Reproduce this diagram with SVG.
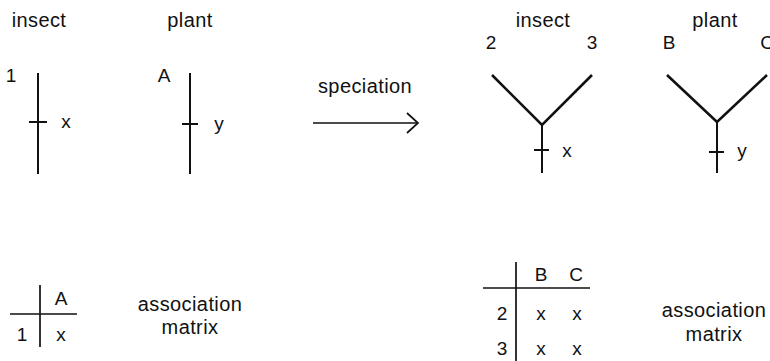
<svg xmlns="http://www.w3.org/2000/svg" width="770" height="361" viewBox="0 0 770 361">
<style>
text{font-family:"Liberation Sans",Arial,sans-serif;fill:#111;}
.t{font-size:20px;text-anchor:middle;letter-spacing:0.4px;}
.l{font-size:19px;text-anchor:middle;}
.ln{stroke:#111;stroke-width:2;fill:none;stroke-linecap:butt;}
.br{stroke:#111;stroke-width:2.6;fill:none;stroke-linejoin:miter;}
.mx{stroke:#111;stroke-width:1.7;fill:none;}
</style>
<rect width="770" height="361" fill="#fff"/>
<g id="insect-before">
<text class="t" x="39" y="27">insect</text>
<text class="l" x="11" y="82">1</text>
<line class="ln" x1="38" y1="73" x2="38" y2="174"/>
<line class="ln" x1="29" y1="122" x2="47" y2="122"/>
<text class="l" x="66" y="128">x</text>
</g>
<g id="plant-before">
<text class="t" x="190" y="27">plant</text>
<text class="l" x="164" y="82">A</text>
<line class="ln" x1="190" y1="73" x2="190" y2="174"/>
<line class="ln" x1="182" y1="124" x2="198" y2="124"/>
<text class="l" x="219" y="130">y</text>
</g>
<g id="connectors">
<text class="t" x="365" y="93">speciation</text>
<line class="mx" x1="313" y1="123" x2="417" y2="123"/>
<polyline class="mx" points="407,113 418,123 407,133"/>
</g>
<g id="insect-after">
<text class="t" x="543" y="27">insect</text>
<text class="l" x="491" y="49">2</text>
<text class="l" x="592" y="49">3</text>
<polyline class="br" points="492,75 542,125 592,75"/>
<line class="ln" x1="542" y1="125" x2="542" y2="173"/>
<line class="ln" x1="534" y1="150" x2="549" y2="150"/>
<text class="l" x="567" y="157">x</text>
</g>
<g id="plant-after">
<text class="t" x="715" y="27">plant</text>
<text class="l" x="669" y="49">B</text>
<text class="l" x="767" y="49">C</text>
<polyline class="br" points="667,75 717,122 767,75"/>
<line class="ln" x1="717" y1="122" x2="717" y2="173"/>
<line class="ln" x1="709" y1="152" x2="724" y2="152"/>
<text class="l" x="742" y="157">y</text>
</g>
<g id="matrix-before">
<line class="mx" x1="40" y1="285" x2="40" y2="347"/>
<line class="mx" x1="10" y1="314" x2="77" y2="314"/>
<text class="l" x="61" y="305">A</text>
<text class="l" x="22" y="341">1</text>
<text class="l" x="61" y="341">x</text>
<text class="t" x="190" y="311">association</text>
<text class="t" x="190" y="334">matrix</text>
</g>
<g id="matrix-after">
<line class="mx" x1="516" y1="262" x2="516" y2="361"/>
<line class="mx" x1="483" y1="288" x2="590" y2="288"/>
<text class="l" x="541" y="281">B</text>
<text class="l" x="576" y="281">C</text>
<text class="l" x="502" y="320">2</text>
<text class="l" x="541" y="320">x</text>
<text class="l" x="577" y="320">x</text>
<text class="l" x="502" y="355">3</text>
<text class="l" x="541" y="355">x</text>
<text class="l" x="577" y="355">x</text>
<text class="t" x="714" y="317">association</text>
<text class="t" x="714" y="341">matrix</text>
</g>
</svg>
